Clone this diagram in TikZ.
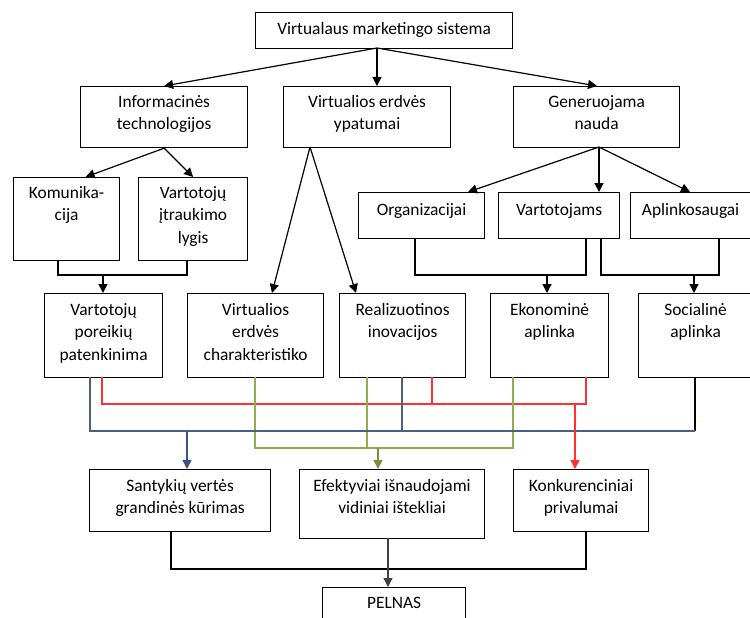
\documentclass[tikz,border=0pt]{standalone}
\usepackage{fontspec}
\setmainfont{Carlito}
\usetikzlibrary{arrows.meta}
\definecolor{lnblue}{HTML}{4A6184}
\definecolor{arblue}{HTML}{3A557C}
\definecolor{lngreen}{HTML}{8DB04A}
\definecolor{argreen}{HTML}{77933C}
\definecolor{lnred}{HTML}{FF3030}
\definecolor{argray}{HTML}{404040}
\tikzset{
  bx/.style={draw=black, line width=1.2pt, fill=white, inner sep=0pt, anchor=north west},
  tx/.style={inner sep=0pt, anchor=north, align=center, font=\fontsize{17.4}{22.5}\selectfont},
  conn/.style={draw=black, line width=1.2pt},
  arr/.style={conn, -{Triangle[length=9pt,width=9pt]}},
  cl/.style={line width=1.3pt},
  carr/.style={line width=1.4pt, -{Triangle[length=9pt,width=9pt]}}
}
\begin{document}
\begin{tikzpicture}[x=1pt,y=-1pt]
\useasboundingbox (0,0) rectangle (750,618);
\clip (0,0) rectangle (750,618);
% boxes
\node[bx, minimum width=257, minimum height=36] (top) at (255,12) {};
\node[bx, minimum width=167, minimum height=61] (info) at (80,86) {};
\node[bx, minimum width=167, minimum height=61] (virt) at (283,86) {};
\node[bx, minimum width=166, minimum height=61] (gen) at (513,86) {};
\node[bx, minimum width=106, minimum height=83] (kom) at (13,177) {};
\node[bx, minimum width=109, minimum height=83] (itr) at (138,177) {};
\node[bx, minimum width=126, minimum height=46] (org) at (358,192) {};
\node[bx, minimum width=121, minimum height=46] (vart) at (498,192) {};
\node[bx, minimum width=130, minimum height=46] (apl) at (630,192) {};
\node[bx, minimum width=118, minimum height=84] (por) at (44,293) {};
\node[bx, minimum width=136, minimum height=84] (char) at (187,293) {};
\node[bx, minimum width=126, minimum height=84] (real) at (339,293) {};
\node[bx, minimum width=118, minimum height=84] (eko) at (490,293) {};
\node[bx, minimum width=122, minimum height=84] (soc) at (638,293) {};
\node[bx, minimum width=181, minimum height=62] (sant) at (89,469) {};
\node[bx, minimum width=185, minimum height=69] (efe) at (299,469) {};
\node[bx, minimum width=135, minimum height=62] (konk) at (513,469) {};
\node[bx, minimum width=143, minimum height=50] (pel) at (322,587) {};
% texts
\node[tx, anchor=center] (topt) at ([yshift=1]top.center) {Virtualaus marketingo sistema};
\node[tx] (infot) at ([yshift=-9]info.north) {Informacinės\\technologijos};
\node[tx] (virtt) at ([yshift=-9]virt.north) {Virtualios erdvės\\ypatumai};
\node[tx] (gent) at ([yshift=-9]gen.north) {Generuojama\\nauda};
\node[tx] (komt) at ([yshift=-9]kom.north) {Komunika-\\cija};
\node[tx] (itrt) at ([yshift=-9]itr.north) {Vartotojų\\įtraukimo\\lygis};
\node[tx] (orgt) at ([yshift=-11]org.north) {Organizacijai};
\node[tx] (vartt) at ([yshift=-11]vart.north) {Vartotojams};
\node[tx] (aplt) at ([yshift=-11,xshift=-5]apl.north) {Aplinkosaugai};
\node[tx] (port) at ([yshift=-10]por.north) {Vartotojų\\poreikių\\patenkinima};
\node[tx] (chart) at ([yshift=-10]char.north) {Virtualios\\erdvės\\charakteristiko};
\node[tx] (realt) at ([yshift=-10]real.north) {Realizuotinos\\inovacijos};
\node[tx] (ekot) at ([yshift=-10]eko.north) {Ekonominė\\aplinka};
\node[tx] (soct) at ([yshift=-10,xshift=-4]soc.north) {Socialinė\\aplinka};
\node[tx] (santt) at ([yshift=-10]sant.north) {Santykių vertės\\grandinės kūrimas};
\node[tx] (efet) at ([yshift=-10]efe.north) {Efektyviai išnaudojami\\vidiniai ištekliai};
\node[tx] (konkt) at ([yshift=-10]konk.north) {Konkurenciniai\\privalumai};
\node[tx] (pelt) at ([yshift=-10]pel.north) {PELNAS};
% level 1 arrows
\coordinate (ts) at (377,48);
\draw[arr] (ts) -- (info.north);
\draw[arr] (ts) -- (ts |- virt.north);
\draw[arr] (ts) -- (597,86);
% info
\draw[arr] (info.south) -- ([xshift=19]kom.north);
\draw[arr] (info.south) -- (itr.north);
% virt
\coordinate (vs) at (310,147);
\draw[arr] (vs) -- (272,293);
\draw[arr] (vs) -- (356,293);
% gen
\coordinate (gs) at (599,147);
\draw[arr] (gs) -- (468,192);
\draw[arr] (gs) -- (gs |- vart.north);
\draw[arr] (gs) -- (690,192);
% kom + itr -> por
\draw[conn] (58,260) |- (187,275) -- (187,260);
\draw[arr] (103,275) -- (103,293);
% org + vart -> eko
\draw[conn] (415,238) |- (586,275) -- (586,238);
\draw[arr] (547,275) -- (547,293);
% vart + apl -> soc
\draw[conn] (601,238) |- (719,275) -- (719,238);
\draw[arr] (694,275) -- (694,293);
% coloured lines
\draw[conn] (695,377) -- (695,431);
\draw[cl, lnred] (102,377) |- (586,404) -- (586,377);
\draw[cl, lnred] (432,377) -- (432,404);
\draw[cl, lngreen] (255,377) |- (513,448) -- (513,377);
\draw[cl, lngreen] (367,377) -- (367,448);
\draw[cl, lnblue] (90,377) |- (695,431);
\draw[cl, lnblue] (402,377) -- (402,431);
\draw[carr, arblue] (187,431) -- (sant.north -| 187,0);
\draw[carr, argreen] (378,448) -- (378,469);
\draw[carr, lnred] (575,404) -- (575,469);
% bottom
\draw[conn] (171,531) |- (586,569) -- (586,531);
\draw[conn, argray, -{Triangle[length=9pt,width=9pt]}] (388,538) -- (pel.north -| 388,0);
\end{tikzpicture}
\end{document}
